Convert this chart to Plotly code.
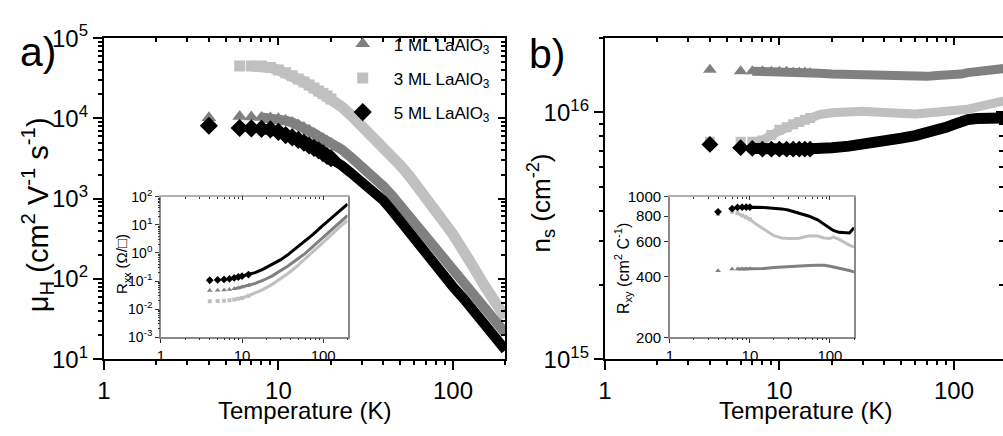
import plotly.graph_objects as go

# ---------------- data ----------------
# Panel a: Hall mobility (cm^2 V^-1 s^-1) vs temperature (K)
T_mu_1ML = [4, 6, 7, 8, 9, 10, 11, 12, 13, 14, 15, 16, 17, 18, 19, 20, 23, 26, 30, 35,
            40, 45, 50, 56, 63, 70, 80, 90, 100, 115, 130, 150, 170, 200]
mu_1ML = [10200, 10600, 10400, 10300, 10100, 9900, 9400, 8900, 8300, 7700, 7100, 6500,
          6000, 5600, 5200, 4900, 4100, 3300, 2550, 1900, 1420, 1080, 820, 600, 440, 330,
          230, 165, 120, 85, 62, 42, 30, 21]
T_mu_3ML = [6, 7, 8, 9, 10, 11, 12, 13, 14, 15, 16, 17, 18, 19, 20, 23, 26, 30, 35,
            40, 45, 50, 56, 63, 70, 80, 90, 100, 115, 130, 150, 170, 200]
mu_3ML = [45000, 45000, 45000, 43000, 40000, 37000, 34000, 31000, 28500, 26000, 24000,
          22000, 20500, 19000, 17500, 14000, 11000, 8200, 6000, 4500, 3400, 2600, 1950,
          1420, 1050, 700, 490, 360, 230, 145, 85, 55, 33]
T_mu_5ML = [4, 6, 7, 8, 9, 10, 11, 12, 13, 14, 15, 16, 17, 18, 19, 20, 23, 26, 30, 35,
            40, 45, 50, 56, 63, 70, 80, 90, 100, 115, 130, 150, 170, 200]
mu_5ML = [8100, 7600, 7500, 7400, 7300, 6800, 6200, 5800, 5400, 5000, 4600, 4300, 4000,
          3700, 3400, 3200, 2600, 2100, 1650, 1250, 950, 700, 520, 390, 280, 210, 150,
          110, 80, 57, 41, 28, 20, 13]

# Panel b: sheet carrier density (cm^-2) vs temperature (K)
T_ns = [4, 6, 7, 8, 9, 10, 11, 12, 13, 14, 15, 17, 20, 25, 30, 35, 40, 50, 60, 70, 80,
        90, 100, 110, 120, 135, 150, 170, 190, 200]
ns_1ML = [1.49e16, 1.47e16, 1.47e16, 1.47e16, 1.46e16, 1.46e16, 1.46e16, 1.45e16, 1.45e16,
          1.45e16, 1.44e16, 1.44e16, 1.43e16, 1.42e16, 1.41e16, 1.41e16, 1.40e16, 1.40e16,
          1.40e16, 1.40e16, 1.41e16, 1.41e16, 1.42e16, 1.43e16, 1.45e16, 1.46e16, 1.47e16,
          1.48e16, 1.50e16, 1.51e16]
ns_3ML = [7.6e15, 7.6e15, 7.6e15, 7.7e15, 8.1e15, 8.5e15, 8.7e15, 8.95e15, 9.15e15, 9.35e15,
          9.5e15, 9.8e15, 9.96e15, 1.01e16, 1.01e16, 1.005e16, 9.96e15, 9.85e15, 9.85e15,
          9.95e15, 1.0e16, 1.01e16, 1.02e16, 1.02e16, 1.03e16, 1.05e16, 1.07e16, 1.09e16,
          1.11e16, 1.12e16]
ns_5ML = [7.42e15, 7.2e15, 7.15e15, 7.1e15, 7.1e15, 7.1e15, 7.1e15, 7.1e15, 7.1e15, 7.1e15,
          7.1e15, 7.15e15, 7.2e15, 7.3e15, 7.4e15, 7.5e15, 7.6e15, 7.87e15, 8.06e15, 8.25e15,
          8.45e15, 8.7e15, 8.95e15, 9.2e15, 9.35e15, 9.45e15, 9.5e15, 9.5e15, 9.5e15, 9.5e15]

# Inset a: R_xx vs temperature
T_rxx = [4, 5, 6, 7, 8, 9, 10, 12, 14.5, 18, 23.3, 30, 37.2, 47, 59.6, 75, 95.4, 120, 152, 175, 200]
rxx_1ML = [0.046, 0.047, 0.048, 0.05, 0.053, 0.057, 0.062, 0.071, 0.083, 0.105, 0.15, 0.23,
           0.35, 0.57, 0.95, 1.7, 3.2, 5.8, 10.5, 15, 21.5]
rxx_3ML = [0.019, 0.0195, 0.02, 0.021, 0.022, 0.0235, 0.025, 0.03, 0.037, 0.05, 0.075, 0.12,
           0.19, 0.33, 0.6, 1.1, 2.1, 3.9, 7.6, 10.5, 14.5]
rxx_5ML = [0.107, 0.11, 0.115, 0.12, 0.13, 0.14, 0.15, 0.17, 0.2, 0.26, 0.38, 0.58, 0.89,
           1.5, 2.6, 4.6, 8.7, 15, 27.5, 39, 55]

# Inset b: R_xy vs temperature
T_rxy = [4, 6, 7, 8, 9, 10, 12, 15, 20, 25, 30, 40, 55, 70, 85, 100, 110, 130, 150, 175, 200]
rxy_1ML = [428, 437, 437, 437, 437, 438, 439, 440, 445, 448, 450, 452, 455, 456, 456, 451,
           448, 442, 437, 430, 422]
rxy_3ML = [820, 841, 828, 806, 790, 772, 729, 687, 640, 624, 620, 620, 640, 638, 624, 620,
           632, 614, 592, 575, 561]
rxy_5ML = [841, 872, 885, 887, 887, 887, 887, 885, 880, 870, 859, 830, 800, 768, 730, 699,
           680, 665, 662, 660, 700]

# tick labels
X_MAJOR = [1, 10, 100]
X_TEXT = ["1", "10", "100"]
X_MINOR = [2, 3, 4, 5, 6, 7, 8, 9, 20, 30, 40, 50, 60, 70, 80, 90, 200]
MU_MAJOR = [10, 100, 1000, 10000, 100000]
MU_TEXT = ["10<sup>1</sup>", "10<sup>2</sup>", "10<sup>3</sup>", "10<sup>4</sup>", "10<sup>5</sup>"]
NS_MAJOR = [1e15, 1e16]
NS_TEXT = ["10<sup>15</sup>", "10<sup>16</sup>"]
RXX_MAJOR = [1e-3, 1e-2, 1e-1, 1, 10, 100]
RXX_TEXT = ["10<sup>-3</sup>", "10<sup>-2</sup>", "10<sup>-1</sup>", "10<sup>0</sup>",
            "10<sup>1</sup>", "10<sup>2</sup>"]
RXY_MAJOR = [200, 400, 600, 800, 1000]
RXY_TEXT = ["200", "400", "600", "800", "1000"]

NAMES = ["1 ML LaAlO<sub>3</sub>", "3 ML LaAlO<sub>3</sub>", "5 ML LaAlO<sub>3</sub>"]
GRAY, LIGHT, BLACK = "#808080", "#c0c0c0", "#000000"
FONT = "Arial, Liberation Sans, sans-serif"


def minor_log(lo, hi):
    vals = []
    for e in range(lo, hi):
        for k in range(2, 10):
            vals.append(k * 10.0 ** e)
    return vals


MU_MINOR = minor_log(1, 5)
NS_MINOR = minor_log(15, 16) + [2e16]
RXX_MINOR = minor_log(-3, 2)

fig = go.Figure()


def add_series(T, vals, xa, ya, color, symbol, msize, lw, mark_max, line_min,
               name=None, legend=False, rank=None):
    lt = [t for t in T if t >= line_min]
    lv = [v for t, v in zip(T, vals) if t >= line_min]
    fig.add_trace(go.Scatter(x=lt, y=lv, xaxis=xa, yaxis=ya, mode="lines",
                             line=dict(color=color, width=lw), showlegend=False,
                             hoverinfo="skip"))
    mt = [t for t in T if t <= mark_max]
    mv = [v for t, v in zip(T, vals) if t <= mark_max]
    fig.add_trace(go.Scatter(x=mt, y=mv, xaxis=xa, yaxis=ya, mode="markers",
                             marker=dict(symbol=symbol, size=msize, color=color,
                                         line=dict(width=0)),
                             name=name, showlegend=legend, legendgroup=name,
                             legendrank=rank, hoverinfo="skip"))


# panel a
add_series(T_mu_3ML, mu_3ML, "x", "y", LIGHT, "square", 11, 11, 20, 7, NAMES[1], True, 2)
add_series(T_mu_1ML, mu_1ML, "x", "y", GRAY, "triangle-up", 13, 10, 20, 8, NAMES[0], True, 1)
add_series(T_mu_5ML, mu_5ML, "x", "y", BLACK, "diamond", 14, 10, 20, 8, NAMES[2], True, 3)
# panel b
add_series(T_ns, ns_3ML, "x5", "y5", LIGHT, "square", 10, 9, 15, 7, NAMES[1])
add_series(T_ns, ns_1ML, "x5", "y5", GRAY, "triangle-up", 12, 9, 15, 7, NAMES[0])
add_series(T_ns, ns_5ML, "x5", "y5", BLACK, "diamond", 13, 11, 15, 7, NAMES[2])
# inset a
add_series(T_rxx, rxx_3ML, "x9", "y9", LIGHT, "square", 4, 3, 12, 8, NAMES[1])
add_series(T_rxx, rxx_1ML, "x9", "y9", GRAY, "triangle-up", 5, 3, 12, 8, NAMES[0])
add_series(T_rxx, rxx_5ML, "x9", "y9", BLACK, "diamond", 6, 3, 12, 8, NAMES[2])
# inset b
add_series(T_rxy, rxy_3ML, "x13", "y13", LIGHT, "square", 4, 3, 10, 7, NAMES[1])
add_series(T_rxy, rxy_1ML, "x13", "y13", GRAY, "triangle-up", 5, 3, 10, 7, NAMES[0])
add_series(T_rxy, rxy_5ML, "x13", "y13", BLACK, "diamond", 6, 3, 10, 7, NAMES[2])

W, H = 1003, 436


def px(v):
    return v / W


def py(v):
    return 1 - v / H


XA_DOM = [px(97.5), px(502)]
XB_DOM = [px(602), 1.0]
Y_DOM = [py(367.5), py(22.7)]
XIA_DOM = [px(155), px(343)]
XIB_DOM = [px(667.5), px(853)]
YI_DOM = [py(344), py(193)]

XR = [0, 2.30103]
XR_B = [0, (1003 - 602) / 175.8]
MU_R = [1, 5]
NS_R = [15, 16.30103]
RXX_R = [-3, 2]
RXY_R = [2.30103, 3]

axes = {}
dummies = []


def ax(letter, num, domain, anchor, rng, vals, side, ticks="outside", text=None,
       tl=8, tw=2, fs=24, lc="black", lw=2, tc="black", overlay=None,
       showline=True, mirror=False):
    d = dict(type="log", domain=domain, anchor=anchor, range=rng, side=side,
             showgrid=False, zeroline=False, showline=showline,
             linecolor=lc, linewidth=lw, ticks=ticks, ticklen=tl, tickwidth=tw,
             tickcolor=tc, tickvals=vals, layer="above traces",
             showticklabels=text is not None,
             tickfont=dict(family=FONT, size=fs, color="black"))
    if text is not None:
        d["ticktext"] = text
    if overlay:
        d["overlaying"] = overlay
    if mirror:
        d["mirror"] = True
    key = ("xaxis" if letter == "x" else "yaxis") + ("" if num == 1 else str(num))
    axes[key] = d
    if overlay:
        if letter == "x":
            dummies.append(("x%d" % num, anchor))
        else:
            dummies.append((anchor, "y%d" % num))


def panel(xb, yb, xdom, ydom, xr, yr, ymaj, ymin, ytext, xfs, yfs, tl, mtl, itl, imtl,
          lc, lw, tc, tw, top_lc, right=True, right_line=True, mirror_y=False):
    X = "x%d" % xb if xb > 1 else "x"
    Y = "y%d" % yb if yb > 1 else "y"
    # bottom: major ticks with labels + minor ticks (outward)
    ax("x", xb, xdom, Y, xr, X_MAJOR, "bottom", text=X_TEXT, tl=tl, fs=xfs, lc=lc, lw=lw,
       tc=tc, tw=tw)
    ax("x", xb + 2, xdom, Y, xr, X_MINOR, "bottom", tl=mtl, lc=lc, lw=lw, tc=tc, tw=tw,
       overlay=X, showline=False)
    # top: inward ticks
    ax("x", xb + 1, xdom, Y, xr, X_MAJOR, "top", ticks="inside", tl=itl, lc=top_lc, lw=lw,
       tc=tc, tw=tw, overlay=X)
    ax("x", xb + 3, xdom, Y, xr, X_MINOR, "top", ticks="inside", tl=imtl, lc=top_lc, lw=lw,
       tc=tc, tw=tw, overlay=X, showline=False)
    # left: major ticks with labels + minor ticks (outward)
    ax("y", yb, ydom, X, yr, ymaj, "left", text=ytext, tl=tl, fs=yfs, lc=lc, lw=lw, tc=tc,
       tw=tw, mirror=mirror_y)
    if ymin:
        ax("y", yb + 2, ydom, X, yr, ymin, "left", tl=mtl, lc=lc, lw=lw, tc=tc, tw=tw,
           overlay=Y, showline=False)
    # right: inward ticks
    if right:
        ax("y", yb + 1, ydom, X, yr, ymaj, "right", ticks="inside", tl=itl, lc=lc, lw=lw,
           tc=tc, tw=tw, overlay=Y, showline=right_line)
        if ymin:
            ax("y", yb + 3, ydom, X, yr, ymin, "right", ticks="inside", tl=imtl, lc=lc,
               lw=lw, tc=tc, tw=tw, overlay=Y, showline=False)


IL, IL2, IT = "#8a8a8a", "#b0b0b0", "#333333"
panel(1, 1, XA_DOM, Y_DOM, XR, MU_R, MU_MAJOR, MU_MINOR, MU_TEXT, 24, 24, 9, 5, 7, 4,
      "black", 2, "black", 2, "black")
panel(5, 5, XB_DOM, Y_DOM, XR_B, NS_R, NS_MAJOR, NS_MINOR, NS_TEXT, 24, 24, 9, 5, 7, 4,
      "black", 2, "black", 2, "black", right_line=False)
panel(9, 9, XIA_DOM, YI_DOM, XR, RXX_R, RXX_MAJOR, RXX_MINOR, RXX_TEXT, 15, 14, 4, 2, 4, 2,
      IL, 1.5, IT, 1, IL2, right=False, mirror_y=True)
panel(13, 13, XIB_DOM, YI_DOM, XR, RXY_R, RXY_MAJOR, None, RXY_TEXT, 15, 15, 4, 2, 4, 2,
      IL, 1.5, IT, 1, IL2, right=False, mirror_y=True)

fig.update_layout(**axes)

# empty traces so that every tick-only axis is drawn
for xa, ya in dummies:
    fig.add_trace(go.Scatter(x=[None], y=[None], xaxis=xa, yaxis=ya, mode="markers",
                             showlegend=False, hoverinfo="skip"))

annots = [
    dict(text="a)", x=px(31), y=py(38), font=dict(size=41)),
    dict(text="b)", x=px(544), y=py(40), font=dict(size=41)),
    dict(text="Temperature (K)", x=px(300), y=py(423), font=dict(size=24)),
    dict(text="Temperature (K)", x=px(804), y=py(423), font=dict(size=24)),
    dict(text="μ<sub>H</sub> (cm<sup>2</sup> V<sup>-1</sup> s<sup>-1</sup>)", x=px(31),
         y=py(212), textangle=-90, font=dict(size=29)),
    dict(text="n<sub>s</sub> (cm<sup>-2</sup>)", x=px(538), y=py(200), textangle=-90,
         font=dict(size=26)),
    dict(text="R<sub>xx</sub> (Ω/□)", x=px(117), y=py(265), textangle=-90,
         font=dict(size=15)),
    dict(text="R<sub>xy</sub> (cm<sup>2</sup> C<sup>-1</sup>)", x=px(621), y=py(270),
         textangle=-90, font=dict(size=16)),
]
for a in annots:
    a.update(xref="paper", yref="paper", showarrow=False, xanchor="center", yanchor="middle")
    a["font"].update(family=FONT, color="black")
fig.update_layout(annotations=annots)

fig.update_layout(
    width=W, height=H, margin=dict(l=0, r=0, t=0, b=0),
    paper_bgcolor="white", plot_bgcolor="white",
    font=dict(family=FONT, color="black"),
    legend=dict(x=px(327), y=py(10), xanchor="left", yanchor="top",
                bgcolor="rgba(0,0,0,0)", font=dict(family=FONT, size=17),
                itemsizing="trace", itemwidth=52, tracegroupgap=9,
                traceorder="grouped"),
)

fig.write_html("out.html")
